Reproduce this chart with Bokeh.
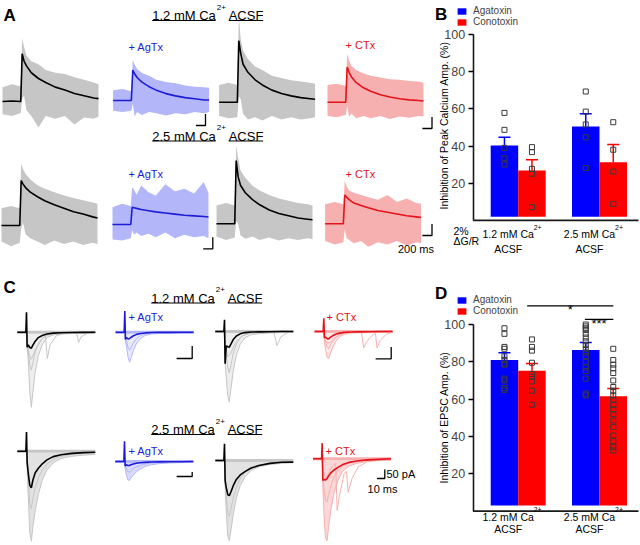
import math
from bokeh.plotting import figure
from bokeh.models import Range1d, Label, Legend, LegendItem, FixedTicker
from bokeh.layouts import column, row
from bokeh.embed import file_html
from bokeh.resources import INLINE
from bokeh.core.properties import value

FONT = "Liberation Sans"

# ======================= DATA =======================
# ---- Panel A: Ca2+ imaging (time in s, dG/R in %) ----
T_A = [0.0, 0.2, 0.38, 0.41, 0.45, 0.5, 0.6, 0.75, 0.9, 1.1, 1.3, 1.5, 1.7, 1.9, 2.0]
ctrl12_mean = [0, 0.1, 0, 8.3, 7.0, 6.2, 5.0, 4.0, 3.3, 2.5, 2.0, 1.4, 1.0, 0.6, 0.5]
ctrl12_hi = [2.5, 3.0, 2.6, 11.0, 9.5, 8.0, 7.0, 6.5, 5.5, 5.0, 4.8, 4.2, 3.8, 3.3, 3.0]
ctrl12_lo = [-2.2, -2.5, -2.0, 0.5, 1.0, -1.5, -2.5, -4.5, -2.5, -3.0, -2.5, -4.0, -2.8, -3.0, -2.6]
agtx12_mean = [0, 0, 0, 5.3, 4.6, 4.0, 3.2, 2.4, 1.8, 1.2, 0.8, 0.5, 0.3, 0.1, 0.1]
agtx12_hi = [1.8, 2.0, 1.6, 7.0, 6.2, 5.5, 4.8, 4.3, 3.6, 3.2, 3.0, 2.6, 2.4, 2.3, 2.2]
agtx12_lo = [-1.8, -2.0, -1.8, -0.5, -2.8, -2.0, -2.5, -2.0, -2.2, -2.6, -2.2, -2.4, -2.0, -2.2, -2.0]
ctrl12b_mean = [0, 0, 0, 10.7, 8.5, 6.6, 5.2, 3.9, 3.0, 2.1, 1.5, 1.1, 0.8, 0.6, 0.5]
ctrl12b_hi = [3.0, 3.4, 3.0, 15.0, 11.0, 9.0, 7.5, 6.2, 5.6, 4.6, 4.2, 3.8, 3.6, 3.4, 3.2]
ctrl12b_lo = [-2.4, -2.8, -2.6, 1.0, 0.5, -2.0, -3.0, -2.6, -3.2, -2.4, -3.0, -2.6, -3.0, -2.8, -2.6]
ctx12_mean = [0, 0, 0, 6.1, 5.2, 4.4, 3.4, 2.5, 1.9, 1.3, 0.9, 0.6, 0.4, 0.3, 0.2]
ctx12_hi = [3.0, 3.2, 2.8, 8.4, 7.2, 6.3, 5.6, 5.0, 4.6, 4.3, 4.0, 3.9, 3.7, 3.6, 3.4]
ctx12_lo = [-2.4, -2.6, -2.2, -0.6, -2.5, -2.0, -2.8, -2.4, -2.8, -2.4, -2.9, -2.5, -2.7, -2.4, -2.5]
ctrl25_mean = [0, 0, 0, 7.8, 7.2, 6.6, 5.8, 5.0, 4.3, 3.6, 3.0, 2.4, 2.0, 1.5, 1.3]
ctrl25_hi = [3.0, 3.4, 3.0, 10.7, 9.8, 9.0, 8.0, 7.0, 6.4, 5.8, 5.2, 4.8, 4.4, 4.0, 3.8]
ctrl25_lo = [-2.8, -3.6, -3.0, -0.5, 0.5, -1.5, -2.2, -2.8, -3.4, -2.6, -3.2, -2.8, -3.4, -3.0, -3.2]
agtx25_mean = [0, 0, 0, 3.0, 2.9, 2.8, 2.6, 2.4, 2.2, 2.0, 1.8, 1.6, 1.5, 1.4, 1.3]
agtx25_hi = [3.0, 3.6, 3.2, 6.5, 6.0, 5.2, 6.8, 5.6, 5.0, 7.0, 5.8, 6.2, 5.4, 7.4, 5.5]
agtx25_lo = [-2.6, -2.8, -2.4, -1.0, -1.8, -1.4, -2.0, -1.6, -2.2, -1.4, -2.4, -1.8, -2.2, -2.0, -2.4]
ctrl25b_mean = [0, 0, 0, 11.0, 8.2, 6.7, 5.4, 4.2, 3.3, 2.4, 1.8, 1.4, 1.0, 0.8, 0.7]
ctrl25b_hi = [3.2, 3.6, 3.2, 13.6, 11.5, 9.3, 8.0, 6.6, 5.8, 5.0, 4.4, 4.0, 3.6, 3.4, 3.2]
ctrl25b_lo = [-2.2, -2.8, -2.4, 0.5, 0.0, -2.0, -2.6, -2.2, -2.8, -2.4, -2.9, -2.5, -2.8, -2.5, -2.7]
ctx25_mean = [0, 0, 0, 5.0, 4.6, 4.2, 3.6, 3.2, 2.8, 2.3, 2.0, 1.7, 1.4, 1.2, 1.1]
ctx25_hi = [3.4, 3.8, 3.4, 7.5, 6.5, 5.8, 5.4, 5.0, 4.6, 4.2, 5.0, 3.8, 4.4, 3.6, 3.5]
ctx25_lo = [-3.0, -3.6, -3.2, -1.0, -2.5, -2.8, -3.4, -3.0, -4.0, -3.2, -3.6, -3.0, -3.8, -3.2, -3.4]
A_SCALE_S, A_SCALE_PCT = 0.2, 2   # scale bars: 200 ms, 2 % dG/R

# ---- Panel C: EPSCs (time in ms, current in pA) ----
T_C = [0, 11, 11.8, 12.6, 14, 16, 18, 20, 23, 27, 32, 38, 46, 56, 70, 85, 100]
c12_ctrl_mean = [0, 0, 111, -83, -70, -85, -89, -72, -50, -30, -18, -10, -5, -3, -2, -1, 0]
c12_ctrl_env = [-4, -5, 0, -90, -150, -330, -417, -330, -220, -130, -70, -30, -15, -10, -8, -6, -5]
c12_ctrl_mid = [0, -2, 60, -70, -100, -180, -210, -170, -110, -65, -35, -18, -9, -5, -3, -2, -1]
c12_ctrl_alt_t = [0, 11, 12.6, 15, 18, 24, 32, 36, 38.5, 42, 50, 60, 76, 78.6, 82, 90, 100]
c12_ctrl_alt = [0, 0, -60, -120, -150, -90, -35, -18, -146, -70, -20, -6, -3, -56, -25, -6, -2]
c12_aga_mean = [0, 0, 117, -40, -30, -37, -35, -28, -20, -12, -7, -4, -2, -1, -1, 0, 0]
c12_aga_env = [-4, -5, 0, -45, -80, -140, -167, -140, -100, -60, -35, -18, -10, -7, -6, -5, -5]
c12_aga_mid = [0, -2, 50, -35, -50, -85, -100, -82, -58, -34, -19, -10, -5, -3, -2, -1, -1]
c12_ctrlb_mean = [0, 0, 65, -179, -80, -85, -87, -70, -45, -25, -13, -6, -3, -2, -1, 0, 0]
c12_ctrlb_env = [-4, -5, 0, -180, -250, -360, -392, -320, -220, -130, -70, -35, -18, -12, -8, -6, -5]
c12_ctrlb_mid = [0, -2, 30, -120, -130, -200, -230, -190, -120, -70, -35, -15, -8, -5, -3, -2, -1]
c12_ctrlb_alt_t = [0, 11, 12.6, 16, 20, 26, 34, 45, 60, 75, 79, 84, 92, 100]
c12_ctrlb_alt = [0, 0, -80, -140, -120, -60, -25, -10, -5, -3, -78, -30, -8, -2]
c12_ctx_mean = [0, 0, 74, -35, -30, -40, -41, -33, -24, -15, -9, -5, -3, -2, -1, 0, 0]
c12_ctx_env = [-4, -5, 0, -60, -100, -145, -150, -125, -90, -55, -30, -15, -9, -7, -6, -5, -5]
c12_ctx_mid = [0, -2, 40, -40, -55, -85, -95, -78, -55, -32, -18, -9, -5, -3, -2, -1, -1]
c12_ctx_alt_t = [0, 11, 12.6, 16, 20, 26, 36, 50, 60, 63, 67, 74, 78, 80, 84, 92, 100]
c12_ctx_alt = [0, 0, -40, -65, -60, -35, -12, -4, -3, -91, -55, -20, -10, -91, -50, -15, -4]
c25_ctrl_mean = [0, 0, 106, -60, -120, -190, -203, -160, -120, -95, -70, -48, -30, -20, -12, -8, -6]
c25_ctrl_env = [-4, -5, 0, -100, -250, -450, -500, -420, -330, -240, -160, -105, -65, -40, -28, -22, -18]
c25_ctrl_mid = [0, -2, 60, -80, -160, -290, -320, -260, -200, -150, -105, -70, -45, -28, -18, -12, -8]
c25_aga_mean = [0, 0, 113, -25, -18, -22, -22, -18, -14, -10, -7, -5, -3, -2, -1, -1, 0]
c25_aga_env = [-4, -5, 0, -40, -70, -100, -106, -92, -75, -58, -42, -28, -18, -12, -8, -6, -5]
c25_aga_mid = [0, -2, 50, -20, -35, -55, -60, -52, -40, -30, -22, -14, -9, -6, -4, -3, -2]
c25_ctrlb_mean = [0, 0, 93, -111, -150, -190, -195, -175, -140, -105, -80, -62, -42, -28, -16, -10, -9]
c25_ctrlb_env = [-4, -5, 0, -150, -280, -420, -445, -390, -300, -210, -140, -90, -55, -35, -22, -16, -12]
c25_ctrlb_mid = [0, -2, 50, -120, -200, -290, -310, -270, -210, -150, -100, -65, -40, -25, -15, -10, -8]
c25_ctx_mean = [0, 0, 87, -120, -115, -118, -110, -95, -78, -62, -48, -32, -20, -12, -6, -3, 0]
c25_ctx_env = [-4, -5, 0, -150, -300, -440, -455, -380, -280, -190, -120, -70, -40, -25, -15, -10, -8]
c25_ctx_mid = [0, -2, 40, -100, -160, -230, -240, -200, -150, -100, -65, -40, -24, -14, -8, -5, -3]
c25_ctx_alt_t = [0, 11, 12.6, 16, 20, 25, 29, 31, 34, 40, 43, 45, 50, 58, 70, 85, 100]
c25_ctx_alt = [0, 0, -60, -110, -80, -40, -25, -287, -200, -80, -70, -186, -110, -45, -15, -5, -2]
C_SCALES = [(20, 70), (20, 65), (20, 25), (10, 50)]  # (ms, pA) of the four scale bars

# ---- Panel B: inhibition of peak calcium amplitude (%) ----
GROUPS = [1, 2]
GROUP_LABELS = ["1.2 mM Ca", "2.5 mM Ca"]
B_AGA_MEAN = [40.3, 50.5]
B_AGA_SEM = [4.4, 6.8]
B_CON_MEAN = [26.8, 31.3]
B_CON_SEM = [5.8, 9.5]
B_AGA_PTS = [[57.8, 48.7, 39.0, 33.4, 30.1], [69.3, 58.5, 51.6, 44.7, 28.1]]
B_CON_PTS = [[39.4, 36.7, 27.7, 25.1, 7.1], [52.8, 38.0, 26.3, 8.9]]

# ---- Panel D: inhibition of EPSC amplitude (%) ----
D_AGA_MEAN = [81.0, 86.4]
D_AGA_SEM = [3.9, 3.9]
D_CON_MEAN = [75.2, 61.6]
D_CON_SEM = [3.9, 4.1]
D_AGA_PTS = [[98, 95, 88, 87, 83, 81, 79, 78.5, 71, 70, 66, 65],
             [100, 99, 98, 97, 95, 93, 91, 89, 87, 85, 83, 80, 77, 75, 71, 63, 62]]
D_CON_PTS = [[92, 88, 86, 79.5, 73.5, 72, 69.5, 64.5, 57],
             [87, 81, 78.5, 76.5, 74, 70, 66.5, 64.5, 62, 59.5, 57, 54.5, 52, 48.5, 45, 40.5, 37.5, 34.5, 32.5]]
# significance: (x from, x to, y of line, marker)
D_SIG = [(1.11, 2.17, 110.0, "*"), (1.82, 2.17, 102.8, "***")]

# ======================= STYLE / LAYOUT =======================
BLACK = "#000000"
GRAY = "#c6c6c6"
BLUE_LINE, BLUE_BAND = "#1c1cd6", "#b3b6f8"
RED_LINE, RED_BAND = "#e3121b", "#f7b0b0"
BAR_BLUE, BAR_RED = "#0000ff", "#ff0000"
AXIS_COLOR = "#1a1a1a"

PAGE_W, PAGE_H = 640, 544
ROW1_H = 278
ROW2_H = PAGE_H - ROW1_H
W_LEFT = 434
W_RIGHT = PAGE_W - W_LEFT


# ======================= helpers =======================
def canvas(y0, h):
    p = figure(width=W_LEFT, height=h, x_range=Range1d(0, W_LEFT), y_range=Range1d(y0 + h, y0),
               output_backend="svg", toolbar_location=None, tools="", min_border=0)
    p.axis.visible = False
    p.grid.visible = False
    p.outline_line_color = None
    return p


def label(p, x, y, text, size="11px", color="black", align="left", baseline="middle",
          bold=False, angle=0):
    p.add_layout(Label(x=x, y=y, text=text, text_font=FONT, text_font_size=size,
                       text_color=color, text_align=align, text_baseline=baseline,
                       text_font_style="bold" if bold else "normal", angle=angle))


def title(p, x, y, main, tail, sup="2+"):
    w_main = 63.5
    label(p, x, y, main, size="13px")
    label(p, x + w_main + 1, y - 8.5, sup, size="8px")
    label(p, x + 76.5, y, tail, size="13px")
    p.segment(x0=[x, x + 76.5], y0=[y + 5] * 2, x1=[x + w_main, x + 111], y1=[y + 5] * 2,
              line_color="black", line_width=1)


# ======================= Panel A =======================
SX_A, SY_A = 48.0, 5.75      # px per s, px per %
pa = canvas(0, ROW1_H)
a_traces = [
    (ctrl12_mean, ctrl12_hi, ctrl12_lo, BLACK, GRAY),
    (agtx12_mean, agtx12_hi, agtx12_lo, BLUE_LINE, BLUE_BAND),
    (ctrl12b_mean, ctrl12b_hi, ctrl12b_lo, BLACK, GRAY),
    (ctx12_mean, ctx12_hi, ctx12_lo, RED_LINE, RED_BAND),
    (ctrl25_mean, ctrl25_hi, ctrl25_lo, BLACK, GRAY),
    (agtx25_mean, agtx25_hi, agtx25_lo, BLUE_LINE, BLUE_BAND),
    (ctrl25b_mean, ctrl25b_hi, ctrl25b_lo, BLACK, GRAY),
    (ctx25_mean, ctx25_hi, ctx25_lo, RED_LINE, RED_BAND),
]
a_pos = [(2.0, 101), (112.6, 100), (218.6, 101.7), (327.0, 101.7),
         (1.0, 225), (112.0, 224), (216.0, 223.3), (324.6, 223.3)]
for (m, hi, lo, lc, bc), (x0, base) in zip(a_traces, a_pos):
    xs = [x0 + t * SX_A for t in T_A]
    pa.varea(x=xs, y1=[base - v * SY_A for v in hi], y2=[base - v * SY_A for v in lo],
             fill_color=bc, fill_alpha=1.0)
    pa.line(xs, [base - v * SY_A for v in m], line_color=lc, line_width=1.6)

for cx, cy in [(431.5, 128), (205, 125), (212.3, 248.3), (431.5, 235)]:
    pa.line([cx - A_SCALE_S * SX_A, cx, cx], [cy, cy, cy - A_SCALE_PCT * SY_A],
            line_color="black", line_width=1.3)

label(pa, 3, 5, "A", size="17px", bold=True, baseline="top")
title(pa, 151.7, 15, "1.2 mM Ca", "ACSF")
title(pa, 151.7, 135.5, "2.5 mM Ca", "ACSF")
label(pa, 128, 46, "+ AgTx", color=BLUE_LINE)
label(pa, 345, 44, "+ CTx", color=RED_LINE)
label(pa, 128, 173.3, "+ AgTx", color=BLUE_LINE)
label(pa, 345, 173.3, "+ CTx", color=RED_LINE)
label(pa, 433.5, 248.3, "200 ms", size="11px", align="right")

# ======================= Panel C =======================
SX_C, SY_C = 0.78, 0.18      # px per ms, px per pA
pc = canvas(ROW1_H, ROW2_H)
c_traces = [
    (c12_ctrl_mean, c12_ctrl_env, c12_ctrl_mid, (c12_ctrl_alt_t, c12_ctrl_alt), BLACK, GRAY),
    (c12_aga_mean, c12_aga_env, c12_aga_mid, None, BLUE_LINE, BLUE_BAND),
    (c12_ctrlb_mean, c12_ctrlb_env, c12_ctrlb_mid, (c12_ctrlb_alt_t, c12_ctrlb_alt), BLACK, GRAY),
    (c12_ctx_mean, c12_ctx_env, c12_ctx_mid, (c12_ctx_alt_t, c12_ctx_alt), RED_LINE, RED_BAND),
    (c25_ctrl_mean, c25_ctrl_env, c25_ctrl_mid, None, BLACK, GRAY),
    (c25_aga_mean, c25_aga_env, c25_aga_mid, None, BLUE_LINE, BLUE_BAND),
    (c25_ctrlb_mean, c25_ctrlb_env, c25_ctrlb_mid, None, BLACK, GRAY),
    (c25_ctx_mean, c25_ctx_env, c25_ctx_mid, (c25_ctx_alt_t, c25_ctx_alt), RED_LINE, RED_BAND),
]
c_pos = [(16.8, 331.7), (115.1, 331.7), (214.8, 331), (314.1, 331),
         (16.8, 450.7), (114.8, 461), (214.8, 460), (312.5, 458.3)]
for i, ((m, env, mid, alt, lc, bc), (x0, base)) in enumerate(zip(c_traces, c_pos)):
    xs = [x0 + t * SX_C for t in T_C]
    pc.varea(x=xs, y1=[base + 1.5] * len(xs), y2=[base - v * SY_C for v in env],
             fill_color=bc, fill_alpha=0.3 if i < 4 else 0.5)
    pc.line(xs, [base - v * SY_C for v in env], line_color=bc, line_width=1)
    pc.line(xs, [base - v * SY_C for v in mid], line_color=bc, line_width=1)
    if alt is not None:
        pc.line([x0 + t * SX_C for t in alt[0]], [base - v * SY_C for v in alt[1]],
                line_color=bc, line_width=1)
    pc.line(xs, [base] * len(xs), line_color=bc, line_width=3)
    pc.line(xs, [base - v * SY_C for v in m], line_color=lc, line_width=1.6)

for (cx, cy), (ms, pA) in zip([(191.7, 358), (390.7, 358.3), (191.7, 476), (384.3, 478)], C_SCALES):
    pc.line([cx - ms * SX_C, cx, cx], [cy, cy, cy - pA * SY_C], line_color="black", line_width=1.3)

label(pc, 3, 277, "C", size="17px", bold=True, baseline="top")
title(pc, 150.7, 297.5, "1.2 mM Ca", "ACSF")
title(pc, 150.7, 429, "2.5 mM Ca", "ACSF")
label(pc, 128, 316.7, "+ AgTx", color=BLUE_LINE)
label(pc, 326, 316.7, "+ CTx", color=RED_LINE)
label(pc, 128, 450.7, "+ AgTx", color=BLUE_LINE)
label(pc, 325, 450, "+ CTx", color=RED_LINE)
label(pc, 386, 473.5, "50 pA")
label(pc, 382, 488, "10 ms", align="center")

# ======================= Panels B and D =======================
PXU = 81.3                      # px per group unit
FIG_L = W_LEFT                  # page x of the bar panels (frame = whole canvas)
AXIS_X = 472.7                  # page x of the y axis
X0 = 1 - (517.7 - FIG_L) / PXU
X1 = X0 + W_RIGHT / PXU
BW = 27.5 / PXU
OFF = BW / 2
CAP = 6 / PXU


def bar_panel(fig_top, h, zero_y, ppu, base, aga_m, aga_s, con_m, con_s, aga_p, con_p,
              ylabel, ylab_cy, lab_y, leg_top, letter, letter_top):
    by = lambda iy: (zero_y - iy) / ppu            # page y -> data value
    bx = lambda ix: X0 + (ix - FIG_L) / PXU         # page x -> data x
    p = figure(width=W_RIGHT, height=h, x_range=Range1d(X0, X1),
               y_range=Range1d(by(fig_top + h), by(fig_top)), x_axis_location=None,
               min_border=0, output_backend="svg", toolbar_location=None, tools="")
    p.grid.visible = False
    p.outline_line_color = None

    xa = [g - OFF for g in GROUPS]
    xc = [g + OFF for g in GROUPS]
    ra = p.vbar(x=xa, top=aga_m, bottom=base, width=BW, fill_color=BAR_BLUE, line_color=None)
    rc = p.vbar(x=xc, top=con_m, bottom=base, width=BW, fill_color=BAR_RED, line_color=None)
    for xs, mm, ss, c in ((xa, aga_m, aga_s, BAR_BLUE), (xc, con_m, con_s, BAR_RED)):
        tops = [a + b for a, b in zip(mm, ss)]
        p.segment(x0=xs, y0=mm, x1=xs, y1=tops, line_color=c, line_width=1.5)
        p.segment(x0=[x - CAP for x in xs], y0=tops, x1=[x + CAP for x in xs], y1=tops,
                  line_color=c, line_width=1.5)
    for xs, pts in ((xa, aga_p), (xc, con_p)):
        px = [x for x, vals in zip(xs, pts) for _ in vals]
        py = [v for vals in pts for v in vals]
        p.scatter(px, py, marker="square", size=5, fill_alpha=0, line_color="#3a3a3a", line_width=1)

    # baseline (x axis line) at 0
    p.segment(x0=[bx(AXIS_X)], y0=[0], x1=[bx(638)], y1=[0], line_color=AXIS_COLOR, line_width=1.6)
    ax = p.yaxis[0]
    ax.fixed_location = bx(AXIS_X)
    ax.ticker = FixedTicker(ticks=[20, 40, 60, 80, 100])
    ax.bounds = (0, 100)
    ax.major_tick_out = 5
    ax.major_tick_in = 0
    ax.minor_tick_line_color = None
    ax.major_label_standoff = 3
    ax.major_label_text_font = FONT
    ax.major_label_text_font_size = "12.5px"
    ax.axis_line_width = 1.6
    ax.axis_line_color = AXIS_COLOR
    ax.major_tick_line_width = 1.3

    label(p, bx(443), by(ylab_cy), ylabel, size="10.5px", align="center", angle=math.pi / 2)
    label(p, bx(434.5), by(letter_top), letter, size="17px", bold=True, baseline="top")
    for g, txt in zip(GROUPS, GROUP_LABELS):
        gx = FIG_L + (g - X0) * PXU
        label(p, bx(gx - 10), by(lab_y[0]), txt, size="10.5px", align="center")
        label(p, bx(gx + 15.5), by(lab_y[1]), "2+", size="7px")
        label(p, bx(gx - 10), by(lab_y[2]), "ACSF", size="10.5px", align="center")

    leg = Legend(items=[LegendItem(label="Agatoxin", renderers=[ra]),
                        LegendItem(label="Conotoxin", renderers=[rc])],
                 location=(456 - FIG_L, fig_top + h - (leg_top + 23)), padding=0, margin=0,
                 spacing=0, glyph_width=11, glyph_height=8, label_standoff=6, label_height=10,
                 label_text_font=FONT, label_text_font_size="10px",
                 border_line_color=None, background_fill_alpha=0)
    p.add_layout(leg)
    return p, bx, by


pb, bxB, byB = bar_panel(0, ROW1_H, 219.9, 1.86, 2.0, B_AGA_MEAN, B_AGA_SEM, B_CON_MEAN, B_CON_SEM,
                         B_AGA_PTS, B_CON_PTS, "Inhibition of Peak Calcium Amp. (%)", 125,
                         (233.3, 227, 248.3), 4, "B", 4)
label(pb, bxB(453), byB(230), "2%", size="10.5px")
label(pb, bxB(453), byB(240), "\u0394G/R", size="10.5px")

pd, bxD, byD = bar_panel(ROW1_H, ROW2_H, 510.6, 1.866, 3.0, D_AGA_MEAN, D_AGA_SEM, D_CON_MEAN,
                         D_CON_SEM, D_AGA_PTS, D_CON_PTS, "Inhibition of EPSC Amp. (%)", 417,
                         (516.7, 509, 528.3), 293, "D", 283)
for xa0, xa1, yl, star in D_SIG:
    pd.segment(x0=[xa0], y0=[yl], x1=[xa1], y1=[yl], line_color="black", line_width=1.2)
    pd.text(x=[(xa0 + xa1) / 2], y=[yl - 2], text=[star], text_align="center",
            text_baseline="alphabetic", text_font=value(FONT), text_font_size="13px")

layout = column(row(pa, pb), row(pc, pd))
open("out.html", "w").write(file_html(layout, INLINE))
